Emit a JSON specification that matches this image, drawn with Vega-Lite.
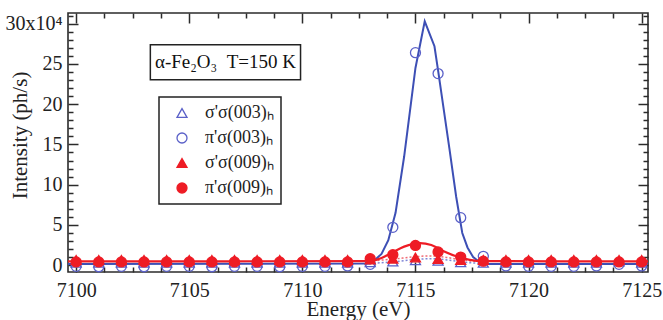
{
  "$schema": "https://vega.github.io/schema/vega-lite/v6.json",
  "width": 580,
  "height": 259,
  "autosize": "none",
  "padding": {"left": 68, "top": 13, "right": 15, "bottom": 48},
  "background": "white",
  "config": {
    "font": "Liberation Serif",
    "view": {"stroke": "#2b2b2b", "strokeWidth": 1.6},
    "axis": {"grid": false, "domain": false, "labelColor": "#222", "titleColor": "#222", "tickColor": "#2b2b2b", "tickWidth": 1.5, "labelFont": "Liberation Serif", "titleFont": "Liberation Serif", "titleFontWeight": "normal"},
    "legend": {"strokeColor": "#222", "strokeWidth": 1.5, "fillColor": "white", "padding": 7, "rowPadding": 7, "labelFont": "Liberation Serif", "labelFontSize": 17, "labelColor": "#222", "symbolOffset": 7, "labelOffset": 14, "symbolSize": 100, "symbolStrokeWidth": 1.3}
  },
  "datasets": {
    "pts": [
      {"E":7100,"I":-0.15,"s":"π'σ(003)ₕ"},{"E":7101,"I":-0.2,"s":"π'σ(003)ₕ"},{"E":7102,"I":-0.15,"s":"π'σ(003)ₕ"},{"E":7103,"I":-0.2,"s":"π'σ(003)ₕ"},{"E":7104,"I":-0.15,"s":"π'σ(003)ₕ"},{"E":7105,"I":-0.15,"s":"π'σ(003)ₕ"},{"E":7106,"I":-0.2,"s":"π'σ(003)ₕ"},{"E":7107,"I":-0.15,"s":"π'σ(003)ₕ"},{"E":7108,"I":-0.15,"s":"π'σ(003)ₕ"},{"E":7109,"I":-0.2,"s":"π'σ(003)ₕ"},{"E":7110,"I":-0.15,"s":"π'σ(003)ₕ"},{"E":7111,"I":-0.15,"s":"π'σ(003)ₕ"},{"E":7112,"I":-0.1,"s":"π'σ(003)ₕ"},{"E":7113,"I":0.1,"s":"π'σ(003)ₕ"},{"E":7114,"I":4.7,"s":"π'σ(003)ₕ"},{"E":7115,"I":26.4,"s":"π'σ(003)ₕ"},{"E":7116,"I":23.8,"s":"π'σ(003)ₕ"},{"E":7117,"I":5.9,"s":"π'σ(003)ₕ"},{"E":7118,"I":1.1,"s":"π'σ(003)ₕ"},{"E":7119,"I":-0.1,"s":"π'σ(003)ₕ"},{"E":7120,"I":-0.15,"s":"π'σ(003)ₕ"},{"E":7121,"I":-0.15,"s":"π'σ(003)ₕ"},{"E":7122,"I":-0.15,"s":"π'σ(003)ₕ"},{"E":7123,"I":-0.1,"s":"π'σ(003)ₕ"},{"E":7124,"I":0.1,"s":"π'σ(003)ₕ"},{"E":7125,"I":-0.1,"s":"π'σ(003)ₕ"},
      {"E":7100,"I":0.3,"s":"σ'σ(003)ₕ"},{"E":7101,"I":0.3,"s":"σ'σ(003)ₕ"},{"E":7102,"I":0.3,"s":"σ'σ(003)ₕ"},{"E":7103,"I":0.3,"s":"σ'σ(003)ₕ"},{"E":7104,"I":0.3,"s":"σ'σ(003)ₕ"},{"E":7105,"I":0.3,"s":"σ'σ(003)ₕ"},{"E":7106,"I":0.3,"s":"σ'σ(003)ₕ"},{"E":7107,"I":0.3,"s":"σ'σ(003)ₕ"},{"E":7108,"I":0.3,"s":"σ'σ(003)ₕ"},{"E":7109,"I":0.3,"s":"σ'σ(003)ₕ"},{"E":7110,"I":0.3,"s":"σ'σ(003)ₕ"},{"E":7111,"I":0.3,"s":"σ'σ(003)ₕ"},{"E":7112,"I":0.3,"s":"σ'σ(003)ₕ"},{"E":7113,"I":0.35,"s":"σ'σ(003)ₕ"},{"E":7114,"I":0.45,"s":"σ'σ(003)ₕ"},{"E":7115,"I":0.6,"s":"σ'σ(003)ₕ"},{"E":7116,"I":0.55,"s":"σ'σ(003)ₕ"},{"E":7117,"I":0.35,"s":"σ'σ(003)ₕ"},{"E":7118,"I":0.3,"s":"σ'σ(003)ₕ"},{"E":7119,"I":0.3,"s":"σ'σ(003)ₕ"},{"E":7120,"I":0.3,"s":"σ'σ(003)ₕ"},{"E":7121,"I":0.3,"s":"σ'σ(003)ₕ"},{"E":7122,"I":0.3,"s":"σ'σ(003)ₕ"},{"E":7123,"I":0.3,"s":"σ'σ(003)ₕ"},{"E":7124,"I":0.45,"s":"σ'σ(003)ₕ"},{"E":7125,"I":0.3,"s":"σ'σ(003)ₕ"},
      {"E":7100,"I":0.4,"s":"π'σ(009)ₕ"},{"E":7101,"I":0.4,"s":"π'σ(009)ₕ"},{"E":7102,"I":0.4,"s":"π'σ(009)ₕ"},{"E":7103,"I":0.4,"s":"π'σ(009)ₕ"},{"E":7104,"I":0.4,"s":"π'σ(009)ₕ"},{"E":7105,"I":0.4,"s":"π'σ(009)ₕ"},{"E":7106,"I":0.4,"s":"π'σ(009)ₕ"},{"E":7107,"I":0.4,"s":"π'σ(009)ₕ"},{"E":7108,"I":0.4,"s":"π'σ(009)ₕ"},{"E":7109,"I":0.4,"s":"π'σ(009)ₕ"},{"E":7110,"I":0.4,"s":"π'σ(009)ₕ"},{"E":7111,"I":0.4,"s":"π'σ(009)ₕ"},{"E":7112,"I":0.4,"s":"π'σ(009)ₕ"},{"E":7113,"I":0.8,"s":"π'σ(009)ₕ"},{"E":7114,"I":1.3,"s":"π'σ(009)ₕ"},{"E":7115,"I":2.45,"s":"π'σ(009)ₕ"},{"E":7116,"I":1.65,"s":"π'σ(009)ₕ"},{"E":7117,"I":1.0,"s":"π'σ(009)ₕ"},{"E":7118,"I":0.5,"s":"π'σ(009)ₕ"},{"E":7119,"I":0.4,"s":"π'σ(009)ₕ"},{"E":7120,"I":0.4,"s":"π'σ(009)ₕ"},{"E":7121,"I":0.4,"s":"π'σ(009)ₕ"},{"E":7122,"I":0.4,"s":"π'σ(009)ₕ"},{"E":7123,"I":0.4,"s":"π'σ(009)ₕ"},{"E":7124,"I":0.4,"s":"π'σ(009)ₕ"},{"E":7125,"I":0.4,"s":"π'σ(009)ₕ"},
      {"E":7100,"I":0.65,"s":"σ'σ(009)ₕ"},{"E":7101,"I":0.65,"s":"σ'σ(009)ₕ"},{"E":7102,"I":0.65,"s":"σ'σ(009)ₕ"},{"E":7103,"I":0.65,"s":"σ'σ(009)ₕ"},{"E":7104,"I":0.65,"s":"σ'σ(009)ₕ"},{"E":7105,"I":0.65,"s":"σ'σ(009)ₕ"},{"E":7106,"I":0.65,"s":"σ'σ(009)ₕ"},{"E":7107,"I":0.65,"s":"σ'σ(009)ₕ"},{"E":7108,"I":0.65,"s":"σ'σ(009)ₕ"},{"E":7109,"I":0.65,"s":"σ'σ(009)ₕ"},{"E":7110,"I":0.65,"s":"σ'σ(009)ₕ"},{"E":7111,"I":0.65,"s":"σ'σ(009)ₕ"},{"E":7112,"I":0.65,"s":"σ'σ(009)ₕ"},{"E":7113,"I":0.7,"s":"σ'σ(009)ₕ"},{"E":7114,"I":0.8,"s":"σ'σ(009)ₕ"},{"E":7115,"I":0.95,"s":"σ'σ(009)ₕ"},{"E":7116,"I":0.75,"s":"σ'σ(009)ₕ"},{"E":7117,"I":0.65,"s":"σ'σ(009)ₕ"},{"E":7118,"I":0.65,"s":"σ'σ(009)ₕ"},{"E":7119,"I":0.65,"s":"σ'σ(009)ₕ"},{"E":7120,"I":0.65,"s":"σ'σ(009)ₕ"},{"E":7121,"I":0.65,"s":"σ'σ(009)ₕ"},{"E":7122,"I":0.65,"s":"σ'σ(009)ₕ"},{"E":7123,"I":0.65,"s":"σ'σ(009)ₕ"},{"E":7124,"I":0.65,"s":"σ'σ(009)ₕ"},{"E":7125,"I":0.65,"s":"σ'σ(009)ₕ"}
    ],
    "fits": [
      {"E":7112.8,"I":0.2,"f":"b3d"},{"E":7114,"I":0.4,"f":"b3d"},{"E":7115,"I":0.7,"f":"b3d"},{"E":7115.7,"I":0.8,"f":"b3d"},{"E":7116.4,"I":0.65,"f":"b3d"},{"E":7117.2,"I":0.35,"f":"b3d"},{"E":7118,"I":0.2,"f":"b3d"},
      {"E":7112.8,"I":0.47,"f":"r9d"},{"E":7114,"I":0.75,"f":"r9d"},{"E":7115,"I":1.05,"f":"r9d"},{"E":7115.6,"I":1.15,"f":"r9d"},{"E":7116.3,"I":1.0,"f":"r9d"},{"E":7117,"I":0.65,"f":"r9d"},{"E":7117.8,"I":0.47,"f":"r9d"},
      {"E":7099.64,"I":0.15,"f":"b3"},{"E":7113.0,"I":0.2,"f":"b3"},{"E":7113.23,"I":0.7,"f":"b3"},{"E":7113.5,"I":1.4,"f":"b3"},{"E":7113.8,"I":3.1,"f":"b3"},{"E":7114.12,"I":6.5,"f":"b3"},{"E":7114.5,"I":13.5,"f":"b3"},{"E":7115.0,"I":24.5,"f":"b3"},{"E":7115.41,"I":30.3,"f":"b3"},{"E":7115.84,"I":27.2,"f":"b3"},{"E":7116.0,"I":24.2,"f":"b3"},{"E":7116.5,"I":14.5,"f":"b3"},{"E":7116.8,"I":8.5,"f":"b3"},{"E":7117.07,"I":4.0,"f":"b3"},{"E":7117.3,"I":2.2,"f":"b3"},{"E":7117.55,"I":1.0,"f":"b3"},{"E":7117.8,"I":0.45,"f":"b3"},{"E":7118.2,"I":0.15,"f":"b3"},{"E":7125.28,"I":0.15,"f":"b3"},
      {"E":7099.64,"I":0.47,"f":"r9"},{"E":7113.0,"I":0.5,"f":"r9"},{"E":7113.5,"I":0.9,"f":"r9"},{"E":7114.0,"I":1.6,"f":"r9"},{"E":7114.5,"I":2.3,"f":"r9"},{"E":7115.2,"I":2.75,"f":"r9"},{"E":7115.7,"I":2.5,"f":"r9"},{"E":7116.2,"I":1.8,"f":"r9"},{"E":7116.8,"I":1.1,"f":"r9"},{"E":7117.4,"I":0.65,"f":"r9"},{"E":7118.0,"I":0.5,"f":"r9"},{"E":7125.28,"I":0.47,"f":"r9"}
    ]
  },
  "resolve": {"axis": {"x": "independent", "y": "independent"}},
  "layer": [
    {"data": {"name": "fits"}, "transform": [{"filter": "datum.f == 'b3d'"}], "mark": {"type": "line", "color": "#7f86d6", "strokeWidth": 1.5, "strokeDash": [2, 2], "interpolate": "monotone"},
     "encoding": {"x": {"field": "E", "type": "quantitative", "scale": {"domain": [7099.64, 7125.28], "nice": false, "zero": false}, "axis": null}, "y": {"field": "I", "type": "quantitative", "scale": {"domain": [-0.85, 31.33], "nice": false, "zero": false}, "axis": null}}},
    {"data": {"name": "fits"}, "transform": [{"filter": "datum.f == 'r9d'"}], "mark": {"type": "line", "color": "#f06a74", "strokeWidth": 1.5, "strokeDash": [2, 2], "interpolate": "monotone"},
     "encoding": {"x": {"field": "E", "type": "quantitative", "scale": {"domain": [7099.64, 7125.28], "nice": false, "zero": false}, "axis": null}, "y": {"field": "I", "type": "quantitative", "scale": {"domain": [-0.85, 31.33], "nice": false, "zero": false}, "axis": null}}},
    {"data": {"name": "fits"}, "transform": [{"filter": "datum.f == 'b3'"}], "mark": {"type": "line", "color": "#3d4fb5", "strokeWidth": 2, "interpolate": "linear"},
     "encoding": {"x": {"field": "E", "type": "quantitative", "scale": {"domain": [7099.64, 7125.28], "nice": false, "zero": false}, "axis": null}, "y": {"field": "I", "type": "quantitative", "scale": {"domain": [-0.85, 31.33], "nice": false, "zero": false}, "axis": null}}},
    {"data": {"name": "fits"}, "transform": [{"filter": "datum.f == 'r9'"}], "mark": {"type": "line", "color": "#ee1c25", "strokeWidth": 2.2, "interpolate": "monotone"},
     "encoding": {"x": {"field": "E", "type": "quantitative", "scale": {"domain": [7099.64, 7125.28], "nice": false, "zero": false}, "axis": null}, "y": {"field": "I", "type": "quantitative", "scale": {"domain": [-0.85, 31.33], "nice": false, "zero": false}, "axis": null}}},
    {
      "data": {"name": "pts"},
      "mark": {"type": "point", "opacity": 1, "strokeWidth": 1.3, "size": 100},
      "encoding": {
        "x": {"field": "E", "type": "quantitative", "scale": {"domain": [7099.64, 7125.28], "nice": false, "zero": false}, "axis": null},
        "y": {"field": "I", "type": "quantitative", "scale": {"domain": [-0.85, 31.33], "nice": false, "zero": false}, "axis": null},
        "shape": {"field": "s", "type": "nominal", "scale": {"domain": ["σ'σ(003)ₕ", "π'σ(003)ₕ", "σ'σ(009)ₕ", "π'σ(009)ₕ"], "range": ["triangle-up", "circle", "triangle-up", "circle"]}, "legend": {"title": null, "orient": "none", "legendX": 91, "legendY": 84, "labelFont": "Liberation Serif", "labelFontSize": 18}},
        "stroke": {"field": "s", "type": "nominal", "scale": {"domain": ["σ'σ(003)ₕ", "π'σ(003)ₕ", "σ'σ(009)ₕ", "π'σ(009)ₕ"], "range": ["#5a60c8", "#5a60c8", "#ee1c25", "#ee1c25"]}, "legend": {"title": null, "orient": "none", "legendX": 91, "legendY": 84, "labelFont": "Liberation Serif", "labelFontSize": 18}},
        "fill": {"field": "s", "type": "nominal", "scale": {"domain": ["σ'σ(003)ₕ", "π'σ(003)ₕ", "σ'σ(009)ₕ", "π'σ(009)ₕ"], "range": ["transparent", "transparent", "#ee1c25", "#ee1c25"]}, "legend": {"title": null, "orient": "none", "legendX": 91, "legendY": 84, "labelFont": "Liberation Serif", "labelFontSize": 18}}
      }
    },
    {
      "data": {"values": [{"label": "α-Fe₂O₃\u2002T=150 K"}]},
      "mark": {"type": "rect", "fill": "white", "fillOpacity": 0, "stroke": "#222", "strokeWidth": 1.5},
      "encoding": {
        "x": {"datum": 7103.28, "type": "quantitative", "scale": {"domain": [7099.64, 7125.28], "nice": false, "zero": false}, "axis": null},
        "x2": {"datum": 7109.92},
        "y": {"datum": 27.39, "type": "quantitative", "scale": {"domain": [-0.85, 31.33], "nice": false, "zero": false}, "axis": null},
        "y2": {"datum": 23.04}
      }
    },
    {
      "data": {"values": [{"label": "α-Fe₂O₃\u2002T=150 K"}]},
      "mark": {"type": "text", "font": "Liberation Serif", "fontSize": 19, "color": "#111", "align": "center", "baseline": "middle"},
      "encoding": {
        "text": {"field": "label", "type": "nominal"},
        "x": {"datum": 7106.6, "type": "quantitative", "scale": {"domain": [7099.64, 7125.28], "nice": false, "zero": false}, "axis": null},
        "y": {"datum": 25.2, "type": "quantitative", "scale": {"domain": [-0.85, 31.33], "nice": false, "zero": false}, "axis": null}
      }
    },
    {
      "data": {"name": "pts"},
      "mark": {"type": "point", "opacity": 0},
      "encoding": {
        "x": {"field": "E", "type": "quantitative", "scale": {"domain": [7099.64, 7125.28], "nice": false, "zero": false},
              "axis": {"orient": "bottom", "values": [7100, 7105, 7110, 7115, 7120, 7125], "ticks": false, "domain": false, "labelFontSize": 20, "labelPadding": 8, "labelFlush": false, "format": "d", "title": "Energy (eV)", "titleFontSize": 21, "titlePadding": -2}},
        "y": {"field": "I", "type": "quantitative", "scale": {"domain": [-0.85, 31.33], "nice": false, "zero": false},
              "axis": {"orient": "left", "values": [0, 5, 10, 15, 20, 25, 30], "ticks": false, "domain": false, "labelFontSize": 20, "labelPadding": 6, "labelFlush": false, "labelExpr": "datum.value == 30 ? '30x10⁴' : datum.label", "title": "Intensity (ph/s)", "titleFontSize": 21, "titleAngle": -90, "titleX": -48, "titleY": 122, "titleAlign": "center", "titleBaseline": "middle"}}
      }
    },
    {
      "data": {"name": "pts"},
      "mark": {"type": "point", "opacity": 0},
      "encoding": {
        "x": {"field": "E", "type": "quantitative", "scale": {"domain": [7099.64, 7125.28], "nice": false, "zero": false},
              "axis": {"orient": "bottom", "values": [7100, 7105, 7110, 7115, 7120, 7125], "labels": false, "domain": false, "tickSize": -10, "title": null}},
        "y": {"field": "I", "type": "quantitative", "scale": {"domain": [-0.85, 31.33], "nice": false, "zero": false},
              "axis": {"orient": "left", "values": [0, 5, 10, 15, 20, 25, 30], "labels": false, "domain": false, "tickSize": -10, "title": null}}
      }
    },
    {
      "data": {"name": "pts"},
      "mark": {"type": "point", "opacity": 0},
      "encoding": {
        "x": {"field": "E", "type": "quantitative", "scale": {"domain": [7099.64, 7125.28], "nice": false, "zero": false},
              "axis": {"orient": "bottom", "values": [7101.25, 7102.5, 7103.75, 7106.25, 7107.5, 7108.75, 7111.25, 7112.5, 7113.75, 7116.25, 7117.5, 7118.75, 7121.25, 7122.5, 7123.75], "labels": false, "domain": false, "tickSize": -5, "title": null}},
        "y": {"field": "I", "type": "quantitative", "scale": {"domain": [-0.85, 31.33], "nice": false, "zero": false},
              "axis": {"orient": "left", "values": [1, 2, 3, 4, 6, 7, 8, 9, 11, 12, 13, 14, 16, 17, 18, 19, 21, 22, 23, 24, 26, 27, 28, 29, 31], "labels": false, "domain": false, "tickSize": -5, "title": null}}
      }
    },
    {
      "data": {"name": "pts"},
      "mark": {"type": "point", "opacity": 0},
      "encoding": {
        "x": {"field": "E", "type": "quantitative", "scale": {"domain": [7099.64, 7125.28], "nice": false, "zero": false},
              "axis": {"orient": "top", "values": [7100, 7105, 7110, 7115, 7120, 7125], "labels": false, "domain": false, "tickSize": -10, "title": null}},
        "y": {"field": "I", "type": "quantitative", "scale": {"domain": [-0.85, 31.33], "nice": false, "zero": false},
              "axis": {"orient": "right", "values": [0, 5, 10, 15, 20, 25, 30], "labels": false, "domain": false, "tickSize": -10, "title": null}}
      }
    },
    {
      "data": {"name": "pts"},
      "mark": {"type": "point", "opacity": 0},
      "encoding": {
        "x": {"field": "E", "type": "quantitative", "scale": {"domain": [7099.64, 7125.28], "nice": false, "zero": false},
              "axis": {"orient": "top", "values": [7101.25, 7102.5, 7103.75, 7106.25, 7107.5, 7108.75, 7111.25, 7112.5, 7113.75, 7116.25, 7117.5, 7118.75, 7121.25, 7122.5, 7123.75], "labels": false, "domain": false, "tickSize": -5, "title": null}},
        "y": {"field": "I", "type": "quantitative", "scale": {"domain": [-0.85, 31.33], "nice": false, "zero": false},
              "axis": {"orient": "right", "values": [1, 2, 3, 4, 6, 7, 8, 9, 11, 12, 13, 14, 16, 17, 18, 19, 21, 22, 23, 24, 26, 27, 28, 29, 31], "labels": false, "domain": false, "tickSize": -5, "title": null}}
      }
    }
  ]
}
